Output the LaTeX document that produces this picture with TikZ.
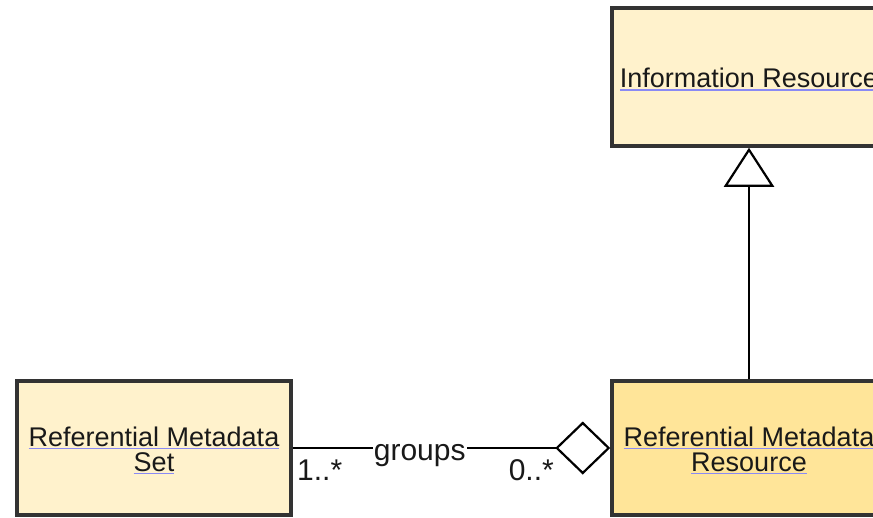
\documentclass[tikz,border=0pt]{standalone}
\usepackage{fontspec}
\setmainfont{Liberation Sans}
\usepackage{xcolor}
\usepackage{tikz}
\usetikzlibrary{arrows.meta,positioning}
\definecolor{pale}{HTML}{FFF2CC}
\definecolor{gold}{HTML}{FFE599}
\definecolor{edge}{HTML}{333333}
\definecolor{link}{HTML}{8A8AF4}
\newcommand{\lnkul}[1]{\setbox0\hbox{#1}\rlap{\color{link}\rule[-3pt]{\wd0}{1.5pt}}\box0}
\newcommand{\topstrut}{\rule{0pt}{24pt}}

\begin{document}
\begin{tikzpicture}[x=1pt,y=-1pt,>=Latex,
  cls/.style={draw=edge,line width=3.5pt,minimum width=274pt,inner sep=0pt,
    align=center,text=black!90,font=\fontsize{27pt}{25pt}\selectfont},
  lbl/.style={font=\fontsize{30pt}{30pt}\selectfont,inner sep=0pt,text=black!90}]
  \useasboundingbox (0,0) rectangle (873,517);
  \clip (0,0) rectangle (873,517);
  \node[cls,fill=pale,minimum height=138pt] (info) at (749,77)
    {\topstrut\lnkul{Information Resource}};
  \node[cls,fill=pale,minimum height=134pt] (rmset) at (154,448)
    {\topstrut\lnkul{Referential Metadata}\\\lnkul{Set}};
  \node[cls,fill=gold,minimum height=134pt] (rmres) at (749,448)
    {\topstrut\lnkul{Referential Metadata}\\\lnkul{Resource}};
  % generalization
  \draw[line width=2.2pt,-{Triangle[open,fill=white,length=39pt,width=50pt]}]
    (rmres) -- (info);
  % aggregation
  \draw[line width=2.2pt,-{Diamond[open,fill=white,length=55pt,width=53pt]}]
    (rmset) -- (rmres)
    node[lbl,fill=white,inner xsep=1pt,pos=0.4,anchor=base,yshift=-12pt] (grp) {groups};
  \node[lbl,anchor=base west] (m1) at (297,480) {1..*};
  \node[lbl,anchor=base east] (m2) at (554,480) {0..*};
\end{tikzpicture}
\end{document}
